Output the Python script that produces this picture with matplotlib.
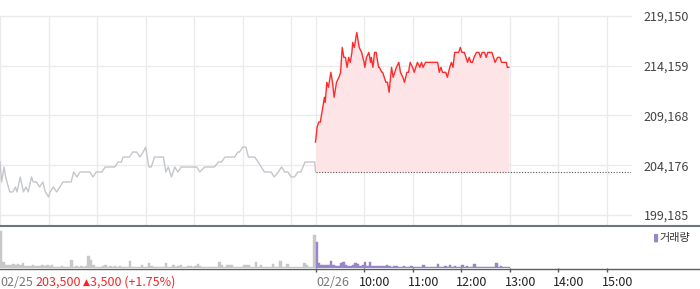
import matplotlib
matplotlib.use("Agg")
import matplotlib.pyplot as plt
from matplotlib.lines import Line2D

plt.rcParams['font.family'] = ['Noto Sans CJK KR', 'DejaVu Sans']

# minutes counted from 09:00 of 02/25; 02/26 09:00 = 390
prev_min = [0, 2, 5, 7, 12, 16, 19, 21, 25, 29, 32, 35, 39, 41, 45, 49, 53, 56, 60, 62,
            66, 70, 74, 78, 82, 88, 91, 95, 99, 105, 111, 115, 119, 126, 130, 134, 138, 142, 146, 150,
            152, 156, 160, 164, 169, 173, 177, 180, 181, 184, 187, 191, 198, 202, 205, 208, 212, 216, 220, 224,
            230, 237, 243, 247, 253, 259, 265, 270, 274, 278, 282, 286, 290, 294, 296, 300, 304, 307, 311, 315,
            319, 323, 327, 331, 335, 339, 344, 348, 352, 356, 360, 364, 368, 372, 377, 385, 389, 390]
prev_price = [204500, 202500, 204000, 203000, 201500, 201500, 202000, 201500, 203000, 201500,
              202000, 201500, 203000, 202500, 202500, 202000, 202500, 201500, 201000, 201500,
              202000, 201500, 202000, 202500, 202500, 202500, 203500, 203000, 203500, 203500,
              203500, 203000, 203500, 203500, 204000, 204000, 204000, 204000, 204500, 204500,
              205000, 205000, 205000, 205500, 205500, 205000, 205500, 206000, 205500, 204000,
              204000, 205000, 205000, 205000, 203500, 204000, 203000, 204000, 203500, 204000,
              204000, 204000, 204000, 203500, 204000, 204000, 204000, 204500, 204500, 205000,
              205000, 205000, 205000, 205500, 205500, 206000, 206000, 205000, 205000, 205000,
              204500, 204000, 203500, 203500, 203500, 203000, 203500, 204000, 203500, 203500,
              203000, 203000, 203500, 203500, 204500, 204500, 204500, 203500]

today_min = [390, 392, 394, 396, 398, 401, 402, 404, 406, 409, 411, 413, 416, 419, 421, 423, 425, 427, 429, 431,
             433, 435, 436, 438, 441, 443, 444, 447, 450, 451, 453, 456, 458, 459, 461, 463, 465, 468, 469, 472,
             473, 475, 477, 479, 481, 484, 486, 488, 490, 493, 495, 498, 500, 503, 505, 507, 510, 512, 514, 516,
             519, 521, 523, 526, 529, 532, 535, 539, 541, 543, 545, 547, 551, 553, 556, 558, 560, 562, 565, 567,
             569, 571, 574, 576, 578, 580, 582, 584, 586, 589, 592, 594, 596, 599, 601, 603, 606, 608, 610, 612,
             615, 618, 620, 623, 626, 627, 628, 629]
today_price = [206500, 208000, 208500, 208500, 209500, 211000, 210500, 212500, 212000, 213500,
               212500, 211000, 212500, 213000, 213500, 216000, 215000, 215000, 214000, 215000,
               214500, 215500, 216500, 216000, 217500, 216500, 216000, 215500, 214500, 214000,
               215000, 215500, 214500, 215000, 214000, 215500, 215500, 214000, 214000, 213500,
               213500, 213000, 212500, 212500, 211500, 214000, 213000, 213500, 214000, 214500,
               213500, 213000, 212500, 213500, 213500, 214500, 214000, 213500, 214000, 214500,
               214000, 214500, 214000, 214500, 214500, 214500, 214500, 214500, 214500, 213500,
               214000, 213500, 213500, 213000, 214000, 214500, 214000, 215500, 215500, 215500,
               216000, 215500, 215500, 215000, 214500, 215000, 214500, 214500, 215000, 215500,
               215500, 215000, 215500, 215500, 215000, 215500, 215500, 215500, 215000, 214500,
               215000, 215000, 214500, 214500, 214500, 214000, 214000, 214000]

prev_close = 203500
y_ticks = [199185, 204176, 209168, 214159, 219150]

# volume in 3-minute bins (thousand shares)
prev_vol = [37, 6, 3, 3, 3, 4, 3, 4, 3, 5, 2, 2, 2, 3, 2, 2, 2, 3, 2, 3,
            2, 3, 1, 1, 1, 2, 1, 1, 1, 8, 1, 2, 1, 2, 1, 2, 12, 8, 3, 1,
            1, 1, 2, 3, 1, 2, 1, 2, 1, 2, 1, 1, 1, 7, 1, 1, 1, 1, 3, 1,
            1, 5, 2, 1, 1, 1, 1, 1, 5, 1, 1, 3, 1, 2, 3, 1, 1, 2, 2, 1,
            2, 4, 2, 1, 1, 1, 1, 1, 1, 1, 6, 3, 1, 3, 3, 3, 1, 1, 1, 1,
            3, 3, 3, 1, 1, 6, 1, 3, 1, 1, 1, 1, 4, 1, 1, 7, 1, 1, 4, 1,
            1, 1, 1, 1, 1, 5, 3, 1, 1, 33]
today_vol = [26, 5, 3, 3, 3, 3, 7, 3, 2, 2, 5, 6, 3, 2, 2, 3, 5, 4, 2, 3,
             6, 2, 6, 2, 2, 2, 2, 2, 2, 3, 2, 1, 2, 2, 1, 1, 2, 1, 1, 2,
             1, 1, 1, 1, 3, 1, 1, 1, 1, 1, 4, 1, 1, 2, 1, 3, 1, 2, 1, 1,
             3, 1, 2, 1, 1, 4, 1, 1, 1, 1, 1, 1, 1, 1, 5, 1, 2, 1, 1, 1]

time_labels = ['10:00', '11:00', '12:00', '13:00', '14:00', '15:00']
time_pos = [450, 510, 570, 630, 690, 750]

W, H = 700, 289
fig = plt.figure(figsize=(7, 2.89), dpi=100)

ax = fig.add_axes([0, (H - 225) / H, 631 / W, 209 / H])
ax.set_xlim(0, 780)
ax.set_ylim(198182, 219150)
for s in ax.spines.values():
    s.set_visible(False)

grid_x = [0, 60, 120, 180, 240, 300, 360, 390] + time_pos
for gx in grid_x:
    ax.axvline(gx, color='#ebebeb', lw=1, zorder=0)
for gy in y_ticks:
    ax.axhline(gy, color='#ebebeb', lw=1, zorder=0, clip_on=False)

ax.plot(prev_min, prev_price, color='#c3c6cb', lw=1, zorder=2)
ax.fill_between(today_min, today_price, prev_close, color='#fde5e7', lw=0, zorder=1)
ax.plot(today_min, today_price, color='#ff2b2b', lw=1, zorder=3)
ax.plot([390, 780], [prev_close, prev_close], color='#555555', lw=0.8,
        linestyle=(0, (1, 1.5)), zorder=2)

ax.set_xticks([])
ax.yaxis.tick_right()
ax.set_yticks(y_ticks)
ax.set_yticklabels([f'{v:,}' for v in y_ticks], fontsize=9, color='#444444')
ax.tick_params(axis='y', length=0, pad=9)

# volume panel
vax = fig.add_axes([0, (H - 268) / H, 631 / W, 42 / H])
vax.set_xlim(0, 780)
vax.set_ylim(0, 42)
for s in vax.spines.values():
    s.set_visible(False)
vax.bar([3 * i for i in range(len(prev_vol))], prev_vol, width=3, align='edge',
        color='#c8c8c8', edgecolor='#c8c8c8', lw=0.3)
vax.bar([390 + 3 * i for i in range(len(today_vol))], today_vol, width=3, align='edge',
        color='#9985c9', edgecolor='#9985c9', lw=0.3)
vax.set_xticks([390] + time_pos)
vax.set_xticklabels([])
vax.set_yticks([])
vax.tick_params(axis='x', length=3, width=1, color='#555555', pad=0)

# frame lines
fig.add_artist(Line2D([0, 1], [(H - 226) / H] * 2, color='#6f747a', lw=1.5))
fig.add_artist(Line2D([0, 1], [(H - 268.5) / H] * 2, color='#5a5f66', lw=1))

# legend
fig.text(653 / W, (H - 238) / H, '▮', color='#9985c9', fontsize=8,
         va='center', ha='left', family=['DejaVu Sans'])
fig.text(659 / W, (H - 238) / H, '거래량', color='#333333', fontsize=8,
         va='center', ha='left')

# bottom labels
ty = (H - 282) / H
red = '#f02828'
fig.text(0, ty, '02/25', color='#777777', fontsize=9, va='center', ha='left')
fig.text(35 / W, ty, '203,500', color=red, fontsize=9, va='center', ha='left')
fig.text(82.5 / W, ty - 0.5 / H, '▲', color=red, fontsize=6.5, va='center', ha='left',
         family=['DejaVu Sans'])
fig.text(90 / W, ty, '3,500 (+1.75%)', color=red, fontsize=9, va='center', ha='left')
fig.text(316 / W, ty, '02/26', color='#777777', fontsize=9, va='center', ha='left')
for lbl, pos in zip(time_labels, time_pos):
    fig.text((pos * 631 / 780 - 5) / W, ty, lbl, color='#222222', fontsize=9,
             va='center', ha='left')

fig.savefig('out.png', dpi=100)
